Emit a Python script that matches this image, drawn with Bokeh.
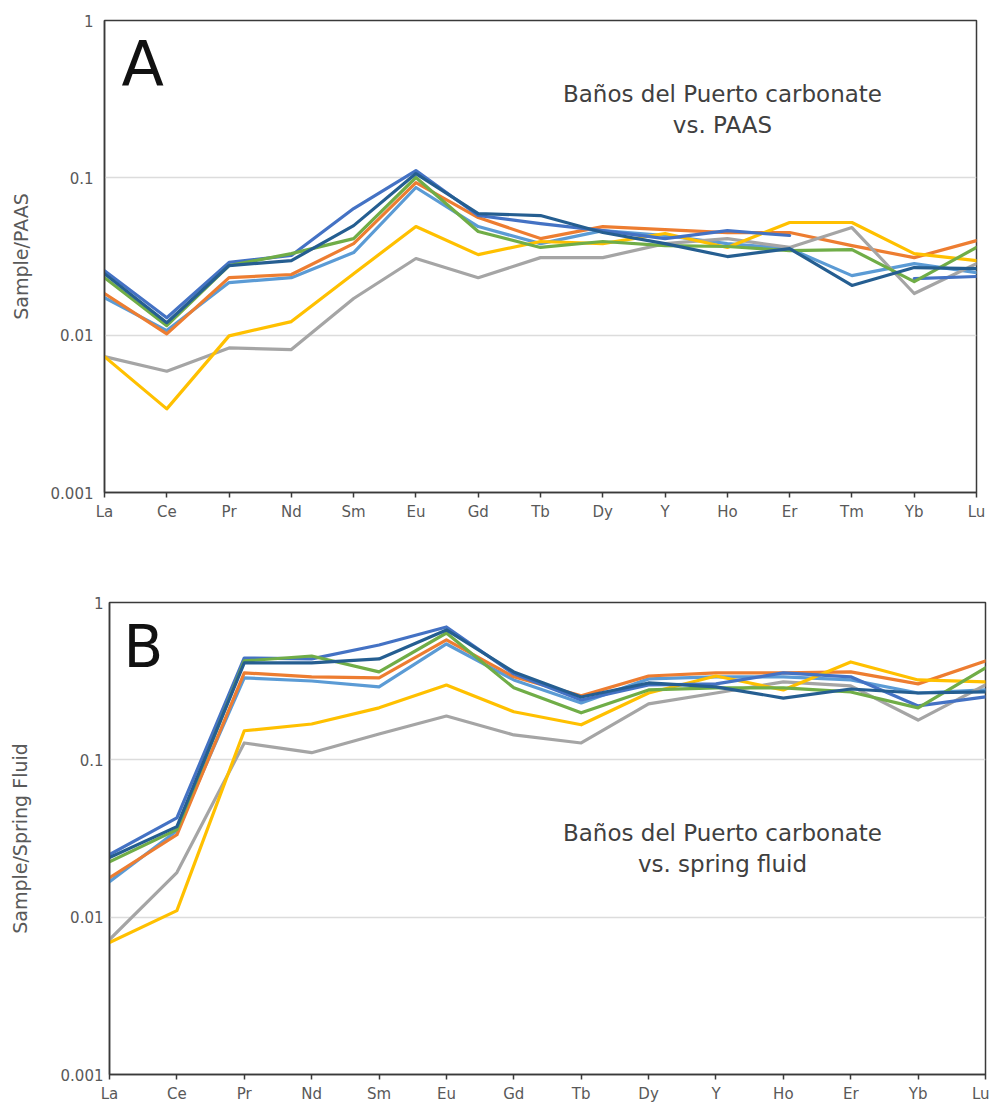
from bokeh.plotting import figure
from bokeh.models import Range1d, FixedTicker, NumeralTickFormatter, Label
from bokeh.embed import file_html
from bokeh.resources import INLINE

nan = float("nan")

# ---------------- data ----------------
elements_a = ["La", "Ce", "Pr", "Nd", "Sm", "Eu", "Gd", "Tb", "Dy", "Y", "Ho", "Er", "Tm", "Yb", "Lu"]
elements_b = ["La", "Ce", "Pr", "Nd", "Sm", "Eu", "Gd", "Tb", "Dy", "Y", "Ho", "Er", "Yb", "Lu"]

series_colors = ["#5B9BD5", "#ED7D31", "#A5A5A5", "#FFC000", "#4472C4", "#70AD47", "#255E91"]

# Panel A: sample / PAAS
paas_s1 = [0.0173, 0.0107, 0.0216, 0.0232, 0.0335, 0.0868, 0.0490, 0.0382, 0.0462, 0.0430, 0.0382, 0.0355, 0.0239, 0.0285, 0.0250]
paas_s2 = [0.0184, 0.0102, 0.0232, 0.0243, 0.0382, 0.0933, 0.0559, 0.0411, 0.0490, 0.0469, 0.0449, 0.0449, 0.0371, 0.0311, 0.0399]
paas_s3 = [0.0073, 0.0059, 0.0083, 0.0081, 0.0171, 0.0307, 0.0232, 0.0311, 0.0311, 0.0382, 0.0411, 0.0361, 0.0483, 0.0184, 0.0285]
paas_s4 = [0.0073, 0.0034, 0.0099, 0.0122, 0.0246, 0.0490, 0.0325, 0.0394, 0.0382, 0.0443, 0.0361, 0.0520, 0.0520, 0.0330, 0.0298]
paas_s5 = [0.0257, 0.0129, 0.0290, 0.0321, 0.0638, 0.1113, 0.0576, 0.0512, 0.0462, 0.0411, 0.0462, 0.0430, nan, 0.0229, 0.0236]
paas_s6 = [0.0232, 0.0115, 0.0277, 0.0330, 0.0411, 0.1005, 0.0456, 0.0361, 0.0394, 0.0371, 0.0366, 0.0345, 0.0350, 0.0219, 0.0361]
paas_s7 = [0.0246, 0.0120, 0.0277, 0.0298, 0.0497, 0.1065, 0.0593, 0.0576, 0.0449, 0.0382, 0.0316, 0.0355, 0.0207, 0.0269, 0.0265]

# Panel B: sample / spring fluid
fluid_s1 = [0.0168, 0.0354, 0.332, 0.317, 0.291, 0.545, 0.322, 0.230, 0.327, 0.337, 0.337, 0.322, 0.266, 0.278]
fluid_s2 = [0.0178, 0.0334, 0.357, 0.337, 0.332, 0.578, 0.337, 0.255, 0.341, 0.357, 0.357, 0.362, 0.304, 0.425]
fluid_s3 = [0.0072, 0.0192, 0.128, 0.111, 0.146, 0.190, 0.144, 0.128, 0.227, 0.266, 0.313, 0.295, 0.179, 0.299]
fluid_s4 = [0.0069, 0.0110, 0.153, 0.169, 0.214, 0.299, 0.202, 0.167, 0.266, 0.341, 0.278, 0.419, 0.322, 0.313]
fluid_s5 = [0.0250, 0.0428, 0.444, 0.438, 0.537, 0.699, 0.352, 0.240, 0.299, 0.304, 0.357, 0.337, 0.220, 0.251]
fluid_s6 = [0.0225, 0.0360, 0.425, 0.457, 0.362, 0.640, 0.287, 0.199, 0.278, 0.287, 0.287, 0.270, 0.214, 0.384]
fluid_s7 = [0.0239, 0.0376, 0.413, 0.413, 0.438, 0.669, 0.362, 0.251, 0.308, 0.291, 0.247, 0.282, 0.266, 0.270]

y_ticks = [0.001, 0.01, 0.1, 1]

FONT = "DejaVu Sans"
AX_COL = "#3a3a3a"
LBL_COL = "#595959"


def make_panel(elements, series, width, height, borders, ylabel, tick_standoff, label_standoff):
    n = len(elements)
    p = figure(width=width, height=height, y_axis_type="log",
               x_range=Range1d(0, n - 1), y_range=Range1d(0.001, 1),
               output_backend="svg", toolbar_location=None,
               min_border_left=borders[0], min_border_right=borders[1],
               min_border_top=borders[2], min_border_bottom=borders[3],
               background_fill_color="white", border_fill_color="white")
    p.outline_line_color = AX_COL
    p.outline_line_width = 1.5
    p.outline_line_alpha = 1.0

    xt = FixedTicker(ticks=list(range(n)))
    p.xaxis.ticker = xt
    p.xaxis.major_label_overrides = {i: e for i, e in enumerate(elements)}
    p.xgrid.visible = False

    yt = FixedTicker(ticks=y_ticks)
    p.yaxis.ticker = yt
    p.ygrid.ticker = yt
    p.yaxis.formatter = NumeralTickFormatter(format="0.[000]")
    p.ygrid.grid_line_color = "#dcdcdc"
    p.ygrid.grid_line_width = 1.5

    for ax in (p.xaxis, p.yaxis):
        ax.axis_line_color = AX_COL
        ax.axis_line_width = 1.5
        ax.minor_tick_line_color = None
        ax.major_label_text_font = FONT
        ax.major_label_text_font_size = "15px"
        ax.major_label_text_color = LBL_COL

    p.xaxis.major_tick_in = 0
    p.xaxis.major_tick_out = 5
    p.xaxis.major_tick_line_color = AX_COL
    p.xaxis.major_tick_line_width = 1.5
    p.xaxis.major_label_standoff = 5

    p.yaxis.major_tick_line_color = None
    p.yaxis.major_tick_in = 0
    p.yaxis.major_tick_out = 0
    p.yaxis.major_label_standoff = tick_standoff
    p.yaxis.axis_label = ylabel
    p.yaxis.axis_label_text_font = FONT
    p.yaxis.axis_label_text_font_size = "19px"
    p.yaxis.axis_label_text_font_style = "normal"
    p.yaxis.axis_label_text_color = LBL_COL
    p.yaxis.axis_label_standoff = label_standoff

    xs = list(range(n))
    for vals, col in zip(series, series_colors):
        p.line(xs, vals, line_color=col, line_width=3.2, line_join="round", line_cap="round")
    return p


pA = make_panel(elements_a, [paas_s1, paas_s2, paas_s3, paas_s4, paas_s5, paas_s6, paas_s7],
                989, 550, (104, 13, 20, 58), "Sample/PAAS", 11, 16)
pB = make_panel(elements_b, [fluid_s1, fluid_s2, fluid_s3, fluid_s4, fluid_s5, fluid_s6, fluid_s7],
                989, 555, (109, 4, 52, 30), "Sample/Spring Fluid", 6, 27)

# panel letters and captions (screen units relative to the plot frame)
pA.add_layout(Label(x=17, y=428, x_units="screen", y_units="screen", text="A",
                    text_font=FONT, text_font_size="62px", text_color="#111111",
                    text_align="left", text_baseline="alphabetic"))
pA.add_layout(Label(x=618, y=399, x_units="screen", y_units="screen", text="Baños del Puerto carbonate",
                    text_font=FONT, text_font_size="23px", text_color="#404040",
                    text_align="center", text_baseline="alphabetic"))
pA.add_layout(Label(x=618, y=368, x_units="screen", y_units="screen", text="vs. PAAS",
                    text_font=FONT, text_font_size="23px", text_color="#404040",
                    text_align="center", text_baseline="alphabetic"))

pB.add_layout(Label(x=14, y=428, x_units="screen", y_units="screen", text="B",
                    text_font=FONT, text_font_size="58px", text_color="#111111",
                    text_align="left", text_baseline="alphabetic"))
pB.add_layout(Label(x=613, y=242, x_units="screen", y_units="screen", text="Baños del Puerto carbonate",
                    text_font=FONT, text_font_size="23px", text_color="#404040",
                    text_align="center", text_baseline="alphabetic"))
pB.add_layout(Label(x=613, y=211, x_units="screen", y_units="screen", text="vs. spring fluid",
                    text_font=FONT, text_font_size="23px", text_color="#404040",
                    text_align="center", text_baseline="alphabetic"))

open("out.html", "w").write(file_html([pA, pB], INLINE))
